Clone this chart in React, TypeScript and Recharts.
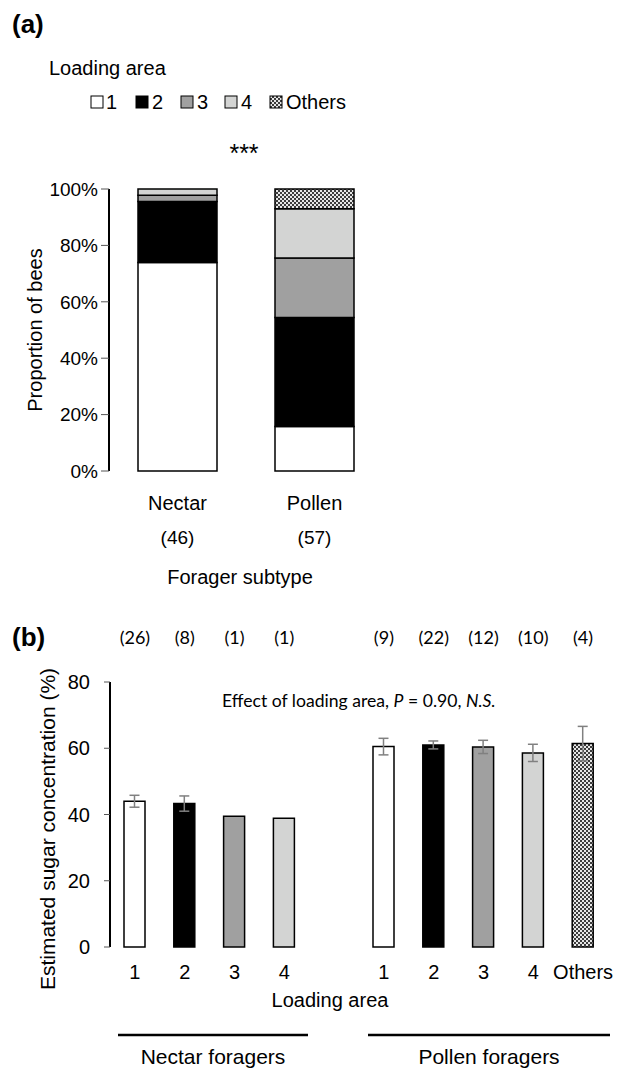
import { BarChart, Bar, XAxis, YAxis, Cell, ErrorBar } from "recharts";

// (a) share of bees per loading area, % of each forager subtype
const subtypes = ["Nectar", "Pollen"];
const subtypeN = [46, 57];
const areaNames = ["1", "2", "3", "4", "Others"];
const nectarShare = [73.9, 21.7, 2.2, 2.2, 0];
const pollenShare = [15.8, 38.6, 21.1, 17.5, 7.0];

// (b) estimated sugar concentration, blank slot separates the two groups
const areaTicks = ["1", "2", "3", "4", "", "1", "2", "3", "4", "Others"];
const areaIndex = [0, 1, 2, 3, -1, 0, 1, 2, 3, 4];
const sugarMean = [44.0, 43.3, 39.5, 38.9, null, 60.5, 61.0, 60.4, 58.6, 61.4];
const sugarSE = [1.8, 2.3, null, null, null, 2.5, 1.2, 2.0, 2.6, 5.2];
const sampleN = [26, 8, 1, 1, null, 9, 22, 12, 10, 4];

const areaFills = ["#ffffff", "#000000", "#a0a0a0", "#d3d4d3", "url(#othersPattern)"];
const ARIAL = "'Liberation Sans', Arial, sans-serif";
const CALIBRI = "Lato, 'Open Sans', sans-serif";

const shareRows = subtypes.map((name, i) => {
  const shares = i === 0 ? nectarShare : pollenShare;
  const row: Record<string, string | number> = { subtype: name, n: subtypeN[i] };
  areaNames.forEach((_, k) => {
    row[`a${k}`] = shares[k];
  });
  return row;
});

const sugarRows = areaTicks.map((label, i) => ({
  id: `c${i}`,
  label,
  mean: sugarMean[i],
  se: sugarSE[i],
  n: sampleN[i],
  area: areaIndex[i],
}));

function SubtypeTick(props: any) {
  const { x, payload, index } = props;
  return (
    <g>
      <text x={x} y={503} textAnchor="middle" dominantBaseline="central" fontSize={20} fontFamily={ARIAL} fill="#000">
        {payload.value}
      </text>
      <text x={x} y={537} textAnchor="middle" dominantBaseline="central" fontSize={19} fontFamily={ARIAL} fill="#000">
        ({subtypeN[index]})
      </text>
    </g>
  );
}

function AreaTick(props: any) {
  const { x, index } = props;
  return (
    <text x={x} y={372} textAnchor="middle" dominantBaseline="central" fontSize={20} fontFamily={ARIAL} fill="#000">
      {areaTicks[index]}
    </text>
  );
}

function CountTick(props: any) {
  const { x, index } = props;
  const n = sampleN[index];
  if (n == null) return null;
  return (
    <text x={x} y={37} textAnchor="middle" dominantBaseline="central" fontSize={18} fontFamily={CALIBRI} fill="#000">
      ({n})
    </text>
  );
}

function LegendRow() {
  const items = [
    { x: 91, tx: 106 },
    { x: 136, tx: 152 },
    { x: 181, tx: 197 },
    { x: 225, tx: 241 },
    { x: 270, tx: 286 },
  ];
  return (
    <g>
      {areaNames.map((name, k) => (
        <g key={name}>
          <rect x={items[k].x} y={96} width={12} height={12} fill={areaFills[k]} stroke="#000" strokeWidth={1} />
          <text x={items[k].tx} y={102} dominantBaseline="central" fontSize={20} fontFamily={ARIAL}>
            {name}
          </text>
        </g>
      ))}
    </g>
  );
}

export default function App() {
  return (
    <div style={{ position: "absolute", left: 0, top: 0, width: 635, height: 1068, background: "#fff" }}>
      <svg width={0} height={0} style={{ position: "absolute" }}>
        <defs>
          <pattern id="othersPattern" width={4} height={4} patternUnits="userSpaceOnUse">
            <rect width={4} height={4} fill="#e6e6e6" />
            <rect width={2} height={2} fill="#3c3c3c" />
            <rect x={2} y={2} width={2} height={2} fill="#3c3c3c" />
          </pattern>
        </defs>
      </svg>

      <div style={{ position: "absolute", left: 0, top: 0 }}>
        <BarChart width={635} height={560} data={shareRows} margin={{ top: 189, right: 252, bottom: 0, left: 0 }} barSize={79}>
          <XAxis dataKey="subtype" axisLine={false} tickLine={false} height={89} interval={0} tick={<SubtypeTick />} />
          <YAxis
            width={109}
            domain={[0, 100]}
            ticks={[0, 20, 40, 60, 80, 100]}
            tickFormatter={(v) => `${v}%`}
            axisLine={{ stroke: "#000", strokeWidth: 2 }}
            tickLine={{ stroke: "#555" }}
            tickSize={8}
            tickMargin={3}
            tick={{ fill: "#000", fontSize: 19, fontFamily: ARIAL }}
          />
          {areaNames.map((name, k) => (
            <Bar key={name} dataKey={`a${k}`} stackId="s" fill={areaFills[k]} stroke="#000" strokeWidth={1.5} isAnimationActive={false} />
          ))}
        </BarChart>
      </div>

      <div style={{ position: "absolute", left: 0, top: 600 }}>
        <BarChart width={635} height={468} data={sugarRows} margin={{ top: 0, right: 27, bottom: 91, left: 0 }} barSize={21}>
          <XAxis xAxisId="bottom" dataKey="id" axisLine={false} tickLine={false} height={30} interval={0} tick={<AreaTick />} />
          <XAxis xAxisId="top" orientation="top" dataKey="id" axisLine={false} tickLine={false} height={82} interval={0} tick={<CountTick />} />
          <YAxis
            width={110}
            domain={[0, 80]}
            ticks={[0, 20, 40, 60, 80]}
            axisLine={{ stroke: "#000", strokeWidth: 2 }}
            tickLine={{ stroke: "#555" }}
            tickSize={6}
            tickMargin={14}
            tick={{ fill: "#000", fontSize: 20, fontFamily: ARIAL }}
          />
          <Bar xAxisId="bottom" dataKey="mean" stroke="#000" strokeWidth={1.5} isAnimationActive={false}>
            {sugarRows.map((row) => (
              <Cell key={row.id} fill={row.area >= 0 ? areaFills[row.area] : "none"} />
            ))}
            <ErrorBar dataKey="se" width={5} stroke="#808080" strokeWidth={1.5} direction="y" isAnimationActive={false} />
          </Bar>
        </BarChart>
      </div>

      <svg width={635} height={1068} style={{ position: "absolute", left: 0, top: 0, pointerEvents: "none" }}>
        <text x={12} y={24} dominantBaseline="central" fontSize={26} fontWeight="bold" fontFamily={ARIAL}>
          (a)
        </text>
        <text x={49} y={68} dominantBaseline="central" fontSize={20} fontFamily={ARIAL}>
          Loading area
        </text>
        <LegendRow />
        <text x={244} y={162} textAnchor="middle" fontSize={25} fontFamily={ARIAL}>
          ***
        </text>
        <text transform="translate(35,330) rotate(-90)" textAnchor="middle" dominantBaseline="central" fontSize={20} fontFamily={ARIAL}>
          Proportion of bees
        </text>
        <text x={240} y={577} textAnchor="middle" dominantBaseline="central" fontSize={20} fontFamily={ARIAL}>
          Forager subtype
        </text>

        <text x={12} y={637} dominantBaseline="central" fontSize={26} fontWeight="bold" fontFamily={ARIAL}>
          (b)
        </text>
        <text x={222} y={700} dominantBaseline="central" fontSize={17.6} fontFamily={CALIBRI}>
          Effect of loading area, <tspan fontStyle="italic">P</tspan> = 0.90, <tspan fontStyle="italic">N.S.</tspan>
        </text>
        <text transform="translate(47,829) rotate(-90)" textAnchor="middle" dominantBaseline="central" fontSize={21} fontFamily={ARIAL}>
          Estimated sugar concentration (%)
        </text>
        <text x={330} y={1000} textAnchor="middle" dominantBaseline="central" fontSize={20} fontFamily={ARIAL}>
          Loading area
        </text>
        <line x1={118} y1={1035} x2={308} y2={1035} stroke="#000" strokeWidth={2.5} />
        <line x1={368} y1={1035} x2={610} y2={1035} stroke="#000" strokeWidth={2.5} />
        <text x={213} y={1056} textAnchor="middle" dominantBaseline="central" fontSize={21} fontFamily={ARIAL}>
          Nectar foragers
        </text>
        <text x={489} y={1056} textAnchor="middle" dominantBaseline="central" fontSize={21} fontFamily={ARIAL}>
          Pollen foragers
        </text>
      </svg>
    </div>
  );
}
